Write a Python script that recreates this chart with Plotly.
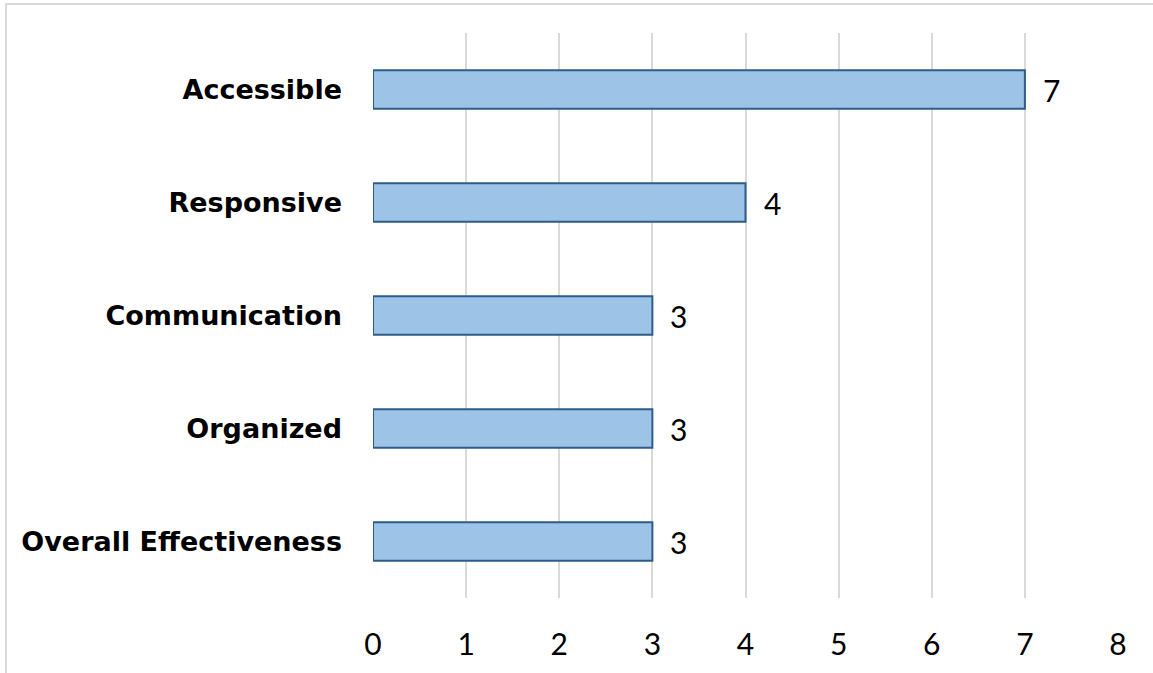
import plotly.graph_objects as go

categories = ["Accessible", "Responsive", "Communication", "Organized", "Overall Effectiveness"]
values = [7, 4, 3, 3, 3]
tick_vals = [0, 1, 2, 3, 4, 5, 6, 7, 8]

W, H = 1153, 673
L, R, T, B = 373, 35, 33, 75

fig = go.Figure()
fig.add_trace(go.Bar(
    y=categories, x=values, orientation="h",
    marker=dict(color="#9DC3E6", line=dict(color="#2E5C8A", width=2)),
    width=0.34, hoverinfo="skip",
))
for c, v in zip(categories, values):
    fig.add_annotation(x=v, y=c, text=str(v), showarrow=False, xanchor="left",
                       xshift=16, font=dict(size=30, color="#000000", family="Lato"))

pw, ph = W - L - R, H - T - B
fig.add_shape(type="rect", xref="paper", yref="paper",
              x0=(6 - L) / pw, x1=2, y0=-1, y1=(H - B - 4) / ph,
              line=dict(color="#D9D9D9", width=2), fillcolor="rgba(0,0,0,0)", layer="below")

fig.update_layout(
    width=W, height=H,
    margin=dict(l=L, r=R, t=T, b=B),
    paper_bgcolor="white", plot_bgcolor="white",
    showlegend=False,
    xaxis=dict(range=[0, 8], tickvals=tick_vals, showgrid=True, gridcolor="#D9D9D9", gridwidth=2,
               zeroline=False, showline=False, ticks="", ticklabelstandoff=26,
               tickfont=dict(size=30, color="#000000", family="Lato"), fixedrange=True),
    yaxis=dict(categoryorder="array", categoryarray=categories[::-1], showgrid=False,
               zeroline=False, showline=False, ticks="", ticklabelstandoff=30,
               tickfont=dict(size=27, color="#000000", family="DejaVu Sans", weight="bold"),
               fixedrange=True),
    font=dict(family="Lato"),
)
fig.write_html("out.html", config={"displayModeBar": False, "staticPlot": True},
               post_script="document.body.style.margin='0';document.body.style.overflow='hidden';")
